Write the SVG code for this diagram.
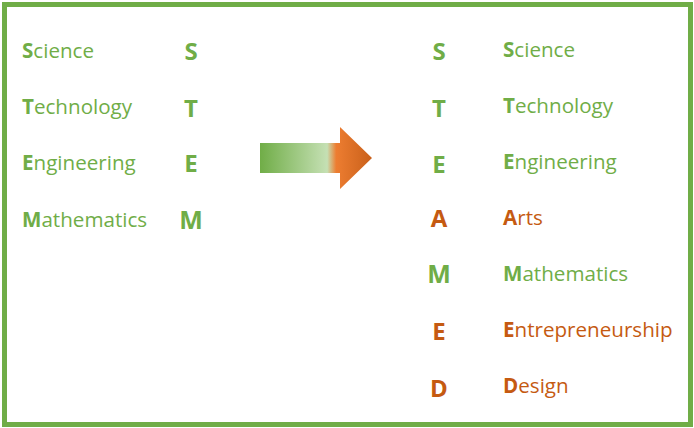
<svg xmlns="http://www.w3.org/2000/svg" width="694" height="428" viewBox="0 0 694 428">
<style>
text{font-family:"Open Sans","Noto Sans","Liberation Sans",sans-serif}
.w{font-size:20.6px}
.b{font-weight:bold}
.L{font-size:24px;font-weight:bold;text-anchor:middle}
.g{fill:#70AD47}
.o{fill:#C55A11}
</style>
<defs>
<linearGradient id="ag" x1="260" y1="0" x2="372" y2="0" gradientUnits="userSpaceOnUse">
<stop offset="0" stop-color="#70AD47"/>
<stop offset="0.6" stop-color="#C5E0B4"/>
<stop offset="0.68" stop-color="#ED7D31"/>
<stop offset="1" stop-color="#C9601A"/>
</linearGradient>
</defs>
<rect x="4.5" y="4.5" width="686" height="420" fill="#FFFFFF" stroke="#70AD47" stroke-width="5"/>
<g id="left-words">
<text class="w g" x="22" y="58"><tspan class="b">S</tspan>cience</text>
<text class="w g" x="22" y="114"><tspan class="b">T</tspan>echnology</text>
<text class="w g" x="22" y="170"><tspan class="b">E</tspan>ngineering</text>
<text class="w g" x="22" y="227"><tspan class="b">M</tspan>athematics</text>
</g>
<g id="left-letters">
<text class="L g" x="191" y="60">S</text>
<text class="L g" x="191" y="117">T</text>
<text class="L g" x="191" y="172">E</text>
<text class="L g" x="191" y="229" style="font-size:25px">M</text>
</g>
<g id="arrow">
<path d="M260,143 H340 V127 L372,158 L340,189 V173 H260 Z" fill="url(#ag)"/>
</g>
<g id="right-letters">
<text class="L g" x="439" y="60">S</text>
<text class="L g" x="439" y="117">T</text>
<text class="L g" x="439" y="173">E</text>
<text class="L o" x="439" y="227">A</text>
<text class="L g" x="439" y="283" style="font-size:25px">M</text>
<text class="L o" x="439" y="340">E</text>
<text class="L o" x="439" y="397">D</text>
</g>
<g id="right-words">
<text class="w g" x="503" y="57"><tspan class="b">S</tspan>cience</text>
<text class="w g" x="503" y="113"><tspan class="b">T</tspan>echnology</text>
<text class="w g" x="503" y="169"><tspan class="b">E</tspan>ngineering</text>
<text class="w o" x="503" y="225"><tspan class="b">A</tspan>rts</text>
<text class="w g" x="503" y="281"><tspan class="b">M</tspan>athematics</text>
<text class="w o" x="503" y="337"><tspan class="b">E</tspan>ntrepreneurship</text>
<text class="w o" x="503" y="393"><tspan class="b">D</tspan>esign</text>
</g>
</svg>
